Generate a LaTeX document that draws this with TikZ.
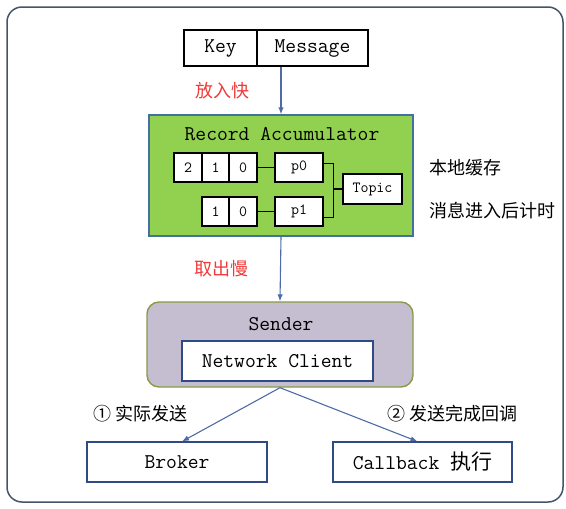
\documentclass[tikz,border=0pt]{standalone}
\usepackage{fontspec}
\newfontfamily\cjk{Noto Sans CJK SC}
\usetikzlibrary{arrows.meta}

\definecolor{frame}{HTML}{44546A}
\definecolor{accgreen}{HTML}{92D050}
\definecolor{accline}{HTML}{41719C}
\definecolor{arrowblue}{HTML}{4E6BA6}
\definecolor{boxblue}{HTML}{2F4A85}
\definecolor{senderfill}{HTML}{C4BED0}
\definecolor{senderline}{HTML}{8C9A46}
\definecolor{notered}{HTML}{F03A3A}

\tikzset{
    bigtext/.style={font=\fontsize{21}{25}\selectfont\ttfamily},
    celltext/.style={font=\fontsize{15.5}{18}\selectfont\ttfamily},
    note/.style={font=\fontsize{18}{22}\selectfont\cjk},
    box/.style={draw, line width=1.1pt, fill=white, inner sep=0pt},
    cell/.style={box, draw=black, celltext, minimum height=29pt},
    flow/.style={draw=arrowblue, line width=1.1pt, -{Latex[length=7pt,width=5.5pt]}},
}

\begin{document}
\begin{tikzpicture}[x=1pt,y=-1pt]
    \useasboundingbox (0,0) rectangle (566,509);
    \draw[frame, line width=1.5pt, rounded corners=15pt] (7,7) rectangle (563,502);

    % message
    \node[box, bigtext, minimum width=73pt, minimum height=36pt] (key) at (220.5,48) {Key};
    \node[box, bigtext, minimum width=111pt, minimum height=36pt] (msg) at (312.5,48) {Message};

    % accumulator
    \node[draw=accline, fill=accgreen, line width=1.4pt, minimum width=264pt, minimum height=121pt] (acc) at (281,175.5) {};
    \node[bigtext] (acctitle) at (282,134) {Record Accumulator};
    \node[cell, minimum width=28pt] (c2) at (188,167.5) {2};
    \node[cell, minimum width=27pt] (c1) at (215.5,167.5) {1};
    \node[cell, minimum width=28pt] (c0) at (243,167.5) {0};
    \node[cell, minimum width=27pt] (d1) at (215.5,211.5) {1};
    \node[cell, minimum width=28pt] (d0) at (243,211.5) {0};
    \node[cell, minimum width=48pt] (p0) at (299,167.5) {p0};
    \node[cell, minimum width=48pt] (p1) at (299,211.5) {p1};
    \node[cell, minimum width=59pt, minimum height=30pt] (topic) at (372.5,189) {Topic};
    \draw[line width=1.1pt] (c0) -- (p0);
    \draw[line width=1.1pt] (d0) -- (p1);
    \draw[line width=1.1pt] ([yshift=4pt]p0.east) -- ++(10,0) coordinate (brtop)
        -- ([xshift=10pt,yshift=-6pt]p1.east) -- ([yshift=-6pt]p1.east);
    \draw[line width=1.1pt] (brtop |- topic.west) -- (topic.west);

    \node[note, anchor=west] (local) at (426,168) {本地缓存};
    \node[note, anchor=west] (timer) at (426,211) {消息进入后计时};

    % sender
    \node[draw=senderline, fill=senderfill, line width=1.4pt, rounded corners=12pt, minimum width=266pt, minimum height=85pt] (sender) at (280,344.5) {};
    \node[bigtext] (sendertitle) at (281,324) {Sender};
    \node[box, draw=boxblue, bigtext, minimum width=191pt, minimum height=40pt] (net) at (277.5,361) {Network Client};

    \draw[flow] (acc.north |- msg.south) -- (acc.north) node[midway, left=28pt, note, text=notered] {放入快};
    \draw[flow] (acc.south) -- (sender.north) node[midway, left=28pt, note, text=notered] {取出慢};

    % targets
    \node[box, draw=boxblue, bigtext, minimum width=180pt, minimum height=40pt] (broker) at (177,462) {Broker};
    \node[box, draw=boxblue, bigtext, minimum width=179pt, minimum height=40pt] (callback) at (422.5,462) {Callback {\cjk 执行}};
    \draw[flow] (sender.south) -- ([xshift=5pt]broker.north);
    \draw[flow] (sender.south) -- ([xshift=-5pt]callback.north);
    \node[note, anchor=west] (send) at (90,414) {① 实际发送};
    \node[note, anchor=west] (done) at (384,414) {② 发送完成回调};
\end{tikzpicture}
\end{document}
